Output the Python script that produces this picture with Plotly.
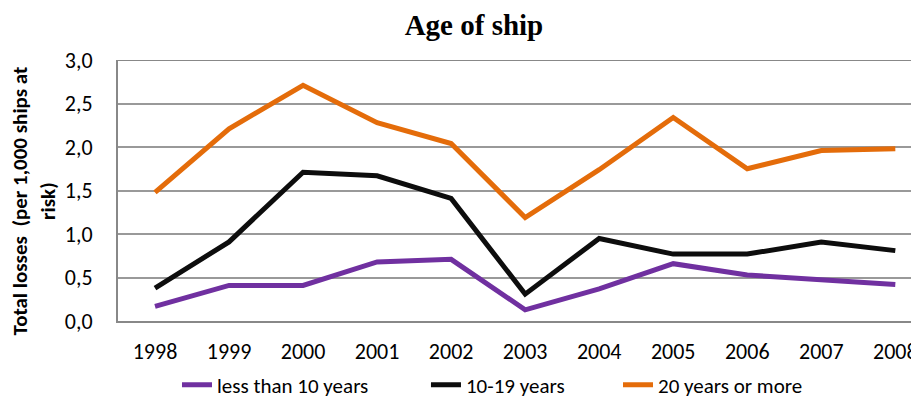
import plotly.graph_objects as go

years = ["1998", "1999", "2000", "2001", "2002", "2003", "2004", "2005", "2006", "2007", "2008"]
less_than_10 = [0.17, 0.41, 0.41, 0.68, 0.71, 0.13, 0.37, 0.66, 0.53, 0.47, 0.42]
years_10_19 = [0.38, 0.91, 1.71, 1.67, 1.41, 0.31, 0.95, 0.77, 0.77, 0.91, 0.81]
twenty_plus = [1.48, 2.21, 2.71, 2.28, 2.04, 1.19, 1.74, 2.34, 1.75, 1.96, 1.98]

series = [
    ("less than 10 years", less_than_10, "#7030a0", "legend"),
    ("10-19 years", years_10_19, "#0d0d0d", "legend2"),
    ("20 years or more", twenty_plus, "#e46c0a", "legend3"),
]

FONT = "Carlito, Calibri, Lato, sans-serif"

fig = go.Figure()
for name, vals, col, lg in series:
    fig.add_trace(go.Scatter(x=years, y=vals, name=name, mode="lines",
                             line=dict(color=col, width=5), legend=lg))

legend_common = dict(orientation="h", xref="container", yref="container",
                     xanchor="left", y=0.0333, yanchor="middle",
                     font=dict(size=21, family=FONT), bgcolor="rgba(0,0,0,0)")

fig.update_layout(
    width=911, height=390,
    margin=dict(l=110, r=0, t=52, b=71),
    paper_bgcolor="white", plot_bgcolor="white",
    separators=",.",
    font=dict(family=FONT, size=22, color="#000000"),
    title=dict(text="<b>Age of ship</b>", x=0.5115, xanchor="center",
               yref="container", y=0.956, yanchor="middle",
               font=dict(family="'Liberation Serif', 'Times New Roman', serif", size=29, color="#000")),
    xaxis=dict(type="category", range=[-0.5, 10.32], showgrid=False,
               showline=True, linecolor="#888888", linewidth=2,
               ticks="", ticklabelstandoff=9, tickfont=dict(size=22)),
    yaxis=dict(range=[0, 3.0], dtick=0.5, tickformat=".1f",
               showgrid=True, gridcolor="#999999", gridwidth=1.5,
               showline=True, linecolor="#888888", linewidth=2,
               ticks="", ticklabelstandoff=19, zeroline=False, tickfont=dict(size=22)),
    showlegend=True,
    legend=dict(x=0.1855, **legend_common),
    legend2=dict(x=0.4588, **legend_common),
    legend3=dict(x=0.6696, **legend_common),
)

fig.add_shape(type="line", xref="paper", yref="y", x0=0, x1=1, y0=3.0, y1=3.0,
              line=dict(color="#888888", width=2))

fig.add_annotation(text="<b>Total losses  (per 1,000 ships at<br>risk)</b>",
                   xref="paper", yref="paper", x=-0.1049, y=0.462,
                   xanchor="center", yanchor="middle", textangle=-90, showarrow=False,
                   font=dict(size=21, family=FONT), align="center")

fig.write_html("out.html")
